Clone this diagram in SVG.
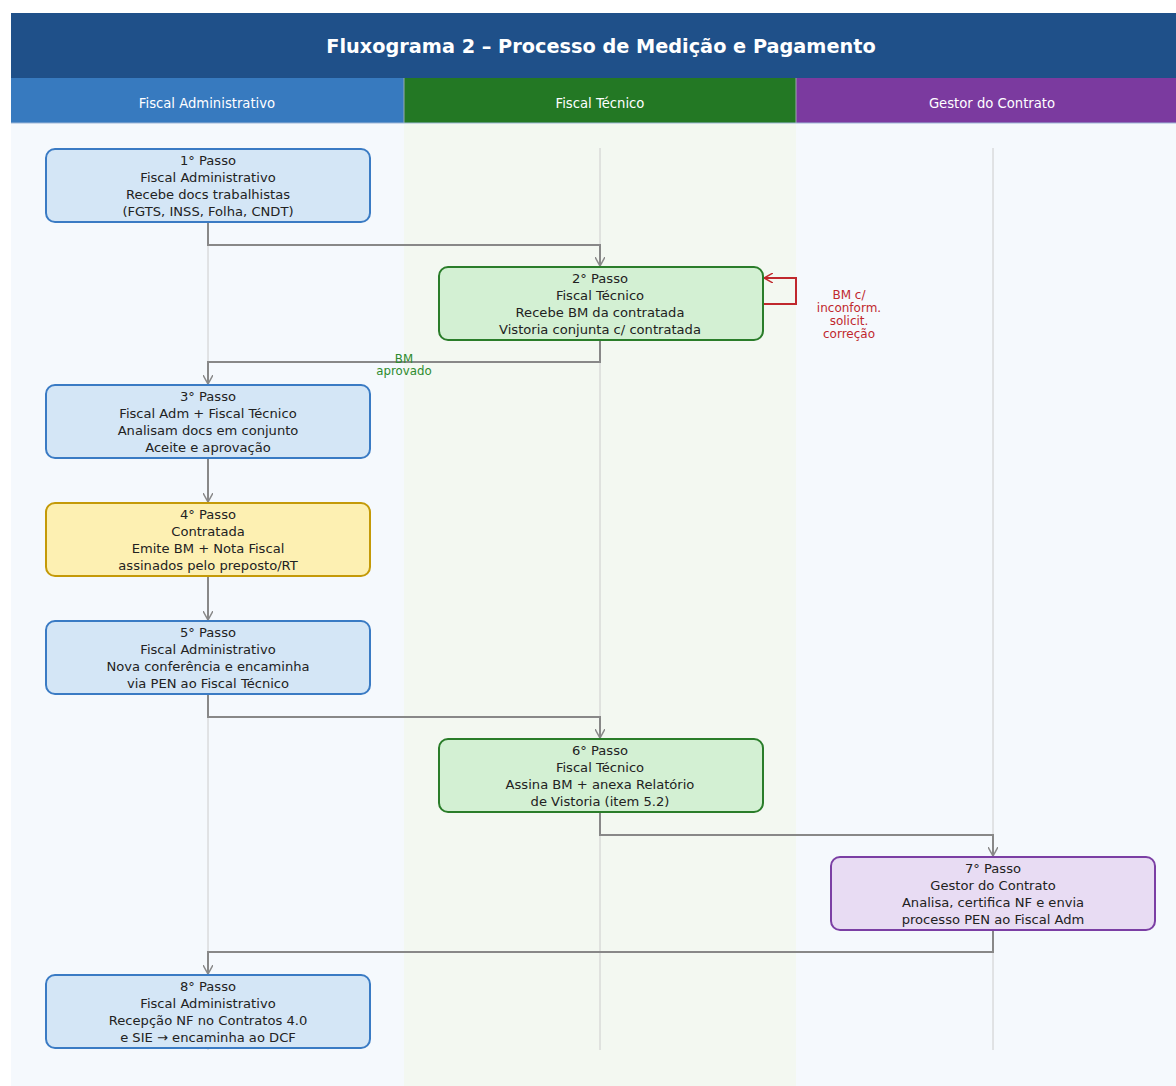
<svg xmlns="http://www.w3.org/2000/svg" width="1176" height="1086" viewBox="0 0 1176 1086">
<style>
  text { font-family: "DejaVu Sans", "Liberation Sans", sans-serif; }
  .title { font-size: 19.3px; font-weight: bold; fill: #ffffff; text-anchor: middle; }
  .lanehdr { font-size: 13.2px; fill: #ffffff; text-anchor: middle; }
  .ntext { font-size: 13.1px; fill: #222222; text-anchor: middle; }
  .lane-line { stroke: #cccccc; stroke-width: 1; }
  .blue { fill: #d4e6f6; stroke: #3a7bc4; stroke-width: 2; }
  .green { fill: #d3f0d3; stroke: #2a7d2a; stroke-width: 2; }
  .yellow { fill: #fdf0b2; stroke: #c49a08; stroke-width: 2; }
  .purple { fill: #e8dcf3; stroke: #7b3fa4; stroke-width: 2; }
  .conn { fill: none; stroke: #888888; stroke-width: 2; }
  .loop { fill: none; stroke: #c0282d; stroke-width: 2; }
  .lbl-green { font-size: 11.8px; fill: #2e8b2e; text-anchor: middle; }
  .lbl-red { font-size: 12px; fill: #c0282d; text-anchor: middle; }
</style>
<defs>
  <marker id="arr" viewBox="0 0 10 10" refX="9" refY="5" markerWidth="10" markerHeight="10" markerUnits="userSpaceOnUse" orient="auto">
    <path d="M0,0 L9,5 L0,10" fill="none" stroke="#888888" stroke-width="1.5"/>
  </marker>
  <marker id="arrRed" viewBox="0 0 10 10" refX="9" refY="5" markerWidth="10" markerHeight="10" markerUnits="userSpaceOnUse" orient="auto">
    <path d="M0,0 L9,5 L0,10" fill="none" stroke="#c0282d" stroke-width="1.5"/>
  </marker>
</defs>
<rect x="0" y="0" width="1176" height="1086" fill="#ffffff"/>
<g id="lanes">
  <rect x="11" y="123" width="393" height="963" fill="#f5f9fd"/>
  <rect x="404" y="123" width="392" height="963" fill="#f3f8f1"/>
  <rect x="796" y="123" width="380" height="963" fill="#f5f9fd"/>
  <rect x="11" y="13" width="1165" height="65" fill="#1f5089"/>
  <text class="title" x="601" y="53">Fluxograma 2 – Processo de Medição e Pagamento</text>
  <rect x="11" y="78" width="393" height="45" fill="#377abf"/>
  <rect x="404" y="78" width="392" height="45" fill="#237824"/>
  <rect x="796" y="78" width="380" height="45" fill="#7b3a9f"/>
  <line x1="404" y1="78" x2="404" y2="123" stroke="#9aa" stroke-width="1"/>
  <line x1="796" y1="78" x2="796" y2="123" stroke="#9aa" stroke-width="1"/>
  <line x1="11" y1="123" x2="1176" y2="123" stroke="#9fb8d8" stroke-width="1"/>
  <text class="lanehdr" x="207" y="108">Fiscal Administrativo</text>
  <text class="lanehdr" x="600" y="108">Fiscal Técnico</text>
  <text class="lanehdr" x="992" y="108">Gestor do Contrato</text>
  <line class="lane-line" x1="208" y1="148" x2="208" y2="1050"/>
  <line class="lane-line" x1="600" y1="148" x2="600" y2="1050"/>
  <line class="lane-line" x1="993" y1="148" x2="993" y2="1050"/>
</g>
<g id="connectors">
  <path class="conn" d="M208,222 V245 H600 V266" marker-end="url(#arr)"/>
  <path class="conn" d="M600,340 V362 H208 V384" marker-end="url(#arr)"/>
  <path class="conn" d="M208,458 V502" marker-end="url(#arr)"/>
  <path class="conn" d="M208,576 V620" marker-end="url(#arr)"/>
  <path class="conn" d="M208,694 V717 H600 V738" marker-end="url(#arr)"/>
  <path class="conn" d="M600,812 V835 H993 V856" marker-end="url(#arr)"/>
  <path class="conn" d="M993,930 V952 H208 V974" marker-end="url(#arr)"/>
  <path class="loop" d="M763,304 H796 V278 H764" marker-end="url(#arrRed)"/>
  <text class="lbl-green" x="404" y="363">BM</text>
  <text class="lbl-green" x="404" y="375">aprovado</text>
  <text class="lbl-red" x="849" y="299">BM c/</text>
  <text class="lbl-red" x="849" y="312">inconform.</text>
  <text class="lbl-red" x="849" y="325">solicit.</text>
  <text class="lbl-red" x="849" y="338">correção</text>
</g>
<g id="n1">
  <rect class="blue" x="46" y="149" width="324" height="73" rx="9"/>
  <text class="ntext" x="208" y="165">1° Passo</text>
  <text class="ntext" x="208" y="182">Fiscal Administrativo</text>
  <text class="ntext" x="208" y="199">Recebe docs trabalhistas</text>
  <text class="ntext" x="208" y="216">(FGTS, INSS, Folha, CNDT)</text>
</g>
<g id="n2">
  <rect class="green" x="439" y="267" width="324" height="73" rx="9"/>
  <text class="ntext" x="600" y="283">2° Passo</text>
  <text class="ntext" x="600" y="300">Fiscal Técnico</text>
  <text class="ntext" x="600" y="317">Recebe BM da contratada</text>
  <text class="ntext" x="600" y="334">Vistoria conjunta c/ contratada</text>
</g>
<g id="n3">
  <rect class="blue" x="46" y="385" width="324" height="73" rx="9"/>
  <text class="ntext" x="208" y="401">3° Passo</text>
  <text class="ntext" x="208" y="418">Fiscal Adm + Fiscal Técnico</text>
  <text class="ntext" x="208" y="435">Analisam docs em conjunto</text>
  <text class="ntext" x="208" y="452">Aceite e aprovação</text>
</g>
<g id="n4">
  <rect class="yellow" x="46" y="503" width="324" height="73" rx="9"/>
  <text class="ntext" x="208" y="519">4° Passo</text>
  <text class="ntext" x="208" y="536">Contratada</text>
  <text class="ntext" x="208" y="553">Emite BM + Nota Fiscal</text>
  <text class="ntext" x="208" y="570">assinados pelo preposto/RT</text>
</g>
<g id="n5">
  <rect class="blue" x="46" y="621" width="324" height="73" rx="9"/>
  <text class="ntext" x="208" y="637">5° Passo</text>
  <text class="ntext" x="208" y="654">Fiscal Administrativo</text>
  <text class="ntext" x="208" y="671">Nova conferência e encaminha</text>
  <text class="ntext" x="208" y="688">via PEN ao Fiscal Técnico</text>
</g>
<g id="n6">
  <rect class="green" x="439" y="739" width="324" height="73" rx="9"/>
  <text class="ntext" x="600" y="755">6° Passo</text>
  <text class="ntext" x="600" y="772">Fiscal Técnico</text>
  <text class="ntext" x="600" y="789">Assina BM + anexa Relatório</text>
  <text class="ntext" x="600" y="806">de Vistoria (item 5.2)</text>
</g>
<g id="n7">
  <rect class="purple" x="831" y="857" width="324" height="73" rx="9"/>
  <text class="ntext" x="993" y="873">7° Passo</text>
  <text class="ntext" x="993" y="890">Gestor do Contrato</text>
  <text class="ntext" x="993" y="907">Analisa, certifica NF e envia</text>
  <text class="ntext" x="993" y="924">processo PEN ao Fiscal Adm</text>
</g>
<g id="n8">
  <rect class="blue" x="46" y="975" width="324" height="73" rx="9"/>
  <text class="ntext" x="208" y="991">8° Passo</text>
  <text class="ntext" x="208" y="1008">Fiscal Administrativo</text>
  <text class="ntext" x="208" y="1025">Recepção NF no Contratos 4.0</text>
  <text class="ntext" x="208" y="1042">e SIE → encaminha ao DCF</text>
</g>
</svg>
